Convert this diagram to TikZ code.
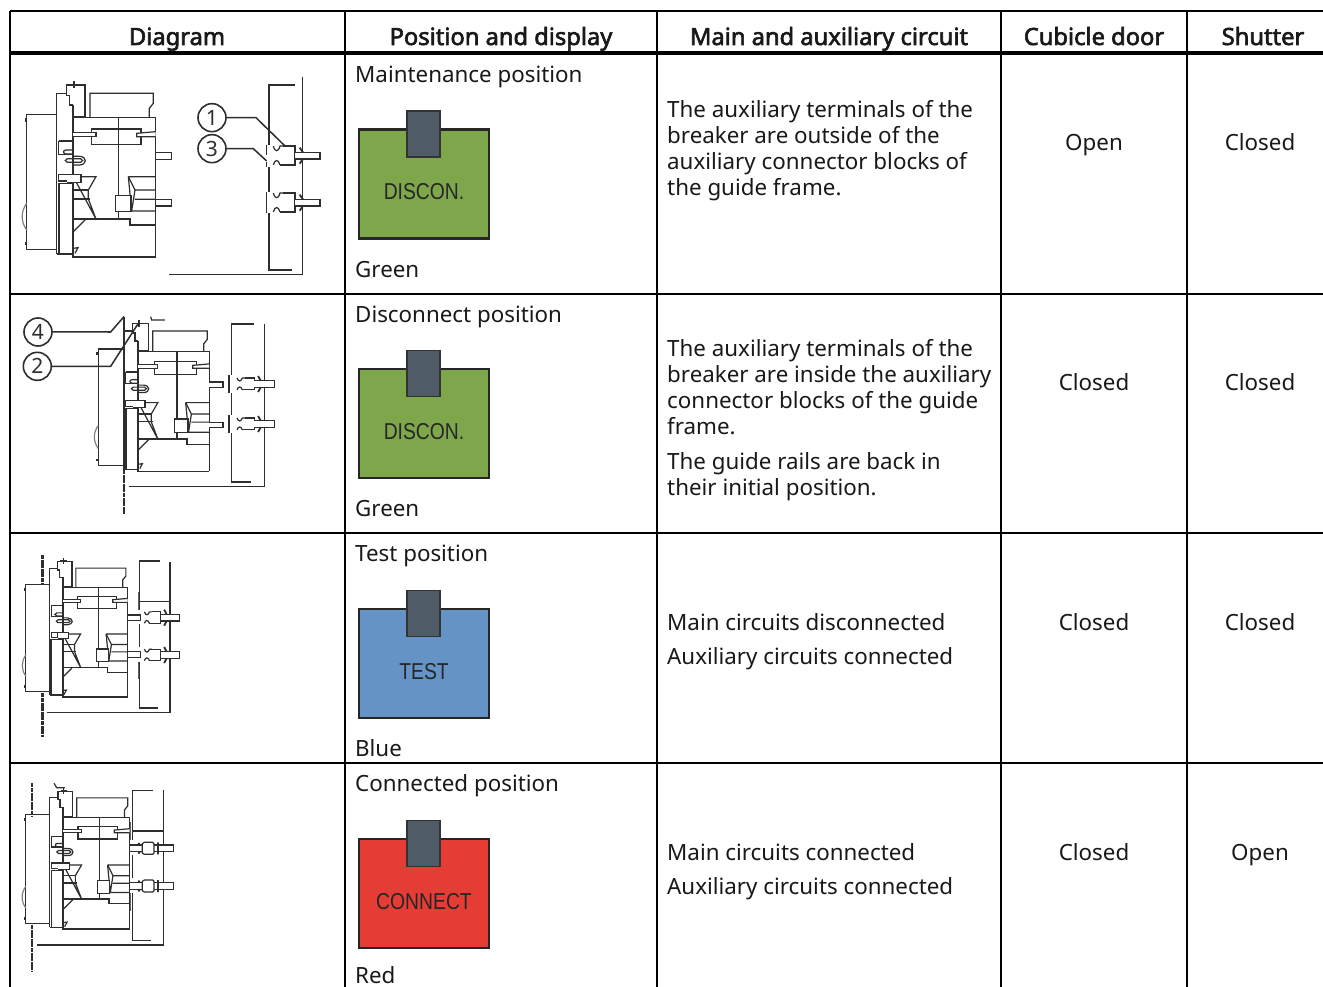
\documentclass[tikz,border=0pt]{standalone}
\usepackage{fontspec}
\setmainfont{Noto Sans}
\newfontfamily\hdrfont[FakeBold=2.5]{Noto Sans}
\newfontfamily\dispfont[FakeStretch=0.84]{Liberation Sans}
\definecolor{ink}{HTML}{2E2E2E}
\definecolor{dgreen}{HTML}{7DA74A}
\definecolor{dblue}{HTML}{6593C5}
\definecolor{dred}{HTML}{E53D35}
\definecolor{dtab}{HTML}{4F5B66}
\tikzset{
 grid/.style={line width=1.3pt,black},
 hdrrule/.style={line width=3.2pt,black},
 lnk/.style={line width=1.2pt,ink,line join=miter},
 thk/.style={line width=1.8pt,ink},
 bar/.style={line width=1.6pt,ink!75},
 lead/.style={line width=1.5pt,ink},
 wall/.style={line width=2.6pt,ink,dash pattern=on 4pt off .6pt},
 hdr/.style={font=\hdrfont\fontsize{23.7}{26}\selectfont,anchor=base,inner sep=0pt,text=black!90},
 body/.style={font=\fontsize{22.35}{26.2}\selectfont,inner sep=0pt,text=black!90},
 first/.style={body,anchor=base west},
 para/.style={body,anchor=north west,align=left},
 mid/.style={body,anchor=base},
 num/.style={circle,draw=ink,line width=1.6pt,minimum size=28pt,inner sep=0pt,font=\fontsize{21}{22}\selectfont,fill=white,text=ink},
 disp/.style={draw=black!85,line width=2.2pt},
 disptab/.style={draw=black!80,fill=dtab,line width=1.6pt},
 disptext/.style={font=\dispfont\fontsize{23}{24}\selectfont,inner sep=0pt,text=black!85,anchor=base}
}
% breaker body in the coordinates of the first row, 3x
\newcommand{\brkbody}{%
 \draw[lnk] (140,178)--(50,178)--(50,583)--(140,583);
 \draw[thk] (47,190)--(47,200) (47,560)--(47,570);
 \draw[lnk,gray] (50,445) .. controls (32,470) and (32,500) .. (50,525);
 \draw[lnk] (168,115)--(140,115)--(140,598);
 \draw[thk] (140,598)--(190,598);
 \draw[thk] (190,150)--(190,605)--(437,605);
 \draw[lnk] (437,605)--(437,188)--(190,188);
 \draw[lnk] (240,188)--(240,115)--(430,115)--(430,145)--(418,160)--(418,188);
 \draw[lnk] (170,122)--(170,90)--(225,90)--(225,185)--(190,185);
 \draw[lnk] (170,122)--(178,122)--(178,150)--(190,150);
 \draw[lnk] (192,78)--(192,100) (180,88)--(205,88);
 \draw[lnk] (325,188)--(325,492);
 \draw[lnk] (245,222)--(393,222)--(393,268)--(245,268)--cycle;
 \draw[lnk,fill=white] (190,233)--(258,233)--(258,245)--(190,245);
 \draw[lnk,fill=white] (437,230)--(380,235)--(380,245)--(437,245);
 \draw[lnk] (146,258)--(190,258) (146,258)--(146,298)--(190,298);
 \draw[lnk] (190,285)--(168,285) .. controls (158,285) and (158,297) .. (168,297)--(190,297);
 \draw[lnk] (172,311)--(212,311) .. controls (220,311) and (220,322) .. (212,322)--(172,322) .. controls (164,322) and (164,311) .. (172,311);
 \draw[lnk] (190,304)--(208,304) .. controls (232,304) and (232,330) .. (208,330)--(190,330);
 \draw[lnk] (190,365)--(258,365)--(235,405)--(235,432)--(258,492)--cycle;
 \draw[lnk] (190,405)--(235,405) (190,432)--(240,432);
 \draw[lnk,fill=white] (146,358)--(172,358)--(172,378)--(146,378)--cycle;
 \draw[lnk,fill=white] (172,358)--(213,358)--(213,382)--(172,382);
 \draw[thk] (146,385)--(146,598);
 \draw[lnk] (146,385)--(190,385);
 \draw[lnk] (190,492)--(360,492)--(360,510)--(437,510);
 \draw[lnk] (190,530)--(225,495);
 \draw[lnk] (190,580)--(204,578)--(195,595);
 \draw[lnk] (355,365)--(437,365) (355,365)--(375,405)--(437,405);
 \draw[lnk] (355,365)--(365,468)--(437,468) (375,405)--(365,468) (375,433)--(437,433);
 \draw[lnk,fill=white] (317,422) rectangle (363,470);
 \draw[lnk,fill=white] (437,293)--(485,293)--(485,313)--(437,313);
 \draw[lnk,fill=white] (437,433)--(485,433)--(485,453)--(437,453);
}
% open auxiliary contact: #1 #2 position, #3 x scale, #4 y scale of the body
\newcommand{\tulip}[4]{%
 \begin{scope}[shift={(#1,#2)},xscale=#3]
  \draw[lnk] (-35,{-29*#4})--(0,{-29*#4})--(0,{28*#4})--(-45,{28*#4});
  \draw[lnk] (-65,{-29*#4}) .. controls (-60,{-10*#4}) and (-50,{-10*#4}) .. (-45,{-29*#4})--(-35,{-29*#4});
  \draw[lnk] (-65,{28*#4}) .. controls (-60,{10*#4}) and (-50,{10*#4}) .. (-45,{28*#4});
  \draw[lnk,fill=white] (0,-10)--(75,-10)--(75,10)--(0,10);
  \draw[thk] (14,-24)--(24,-10) (14,24)--(24,10);
 \end{scope}}
% closed contact in the last row
\newcommand{\closedc}[1]{%
 \draw[lnk,fill=white] (360,{#1-10})--(490,{#1-10})--(490,{#1+10})--(360,{#1+10});
 \draw[thk] (385,{#1-16})--(390,{#1-10}) (385,{#1+16})--(390,{#1+10}) (444,{#1-18})--(444,{#1+18});
 \draw[lnk,fill=white] (397,{#1-14})--(403,{#1-18})--(428,{#1-18})--(432,{#1-14})--(432,{#1+14})--(428,{#1+18})--(403,{#1+18})--(397,{#1+14})--cycle;
}
\newcommand{\dispbox}[4]{%
 % #1 top of the coloured box, #2 colour, #3 text, #4 name
 \node[disp,fill=#2,minimum width=130pt,minimum height=109pt,anchor=north west,inner sep=0pt] (#4box) at (357.5,#1-.5) {};
 \node[disptab,minimum width=33pt,minimum height=46pt,anchor=north west,inner sep=0pt] (#4tab) at (406,#1-18.5) {};
 \node[disptext] (#4txt) at (424,#1+71) {#3};
}
\begin{document}
\begin{tikzpicture}[x=1pt,y=-1pt]
\useasboundingbox (0,0) rectangle (1323,987);
\fill[white] (0,0) rectangle (1323,987);
% table rules
\coordinate (tl) at (10,11); \coordinate (tr) at (1323,11);
\coordinate (hl) at (10,53); \coordinate (hr) at (1323,53);
\draw[grid] (tl)--(tr);
\draw[hdrrule] (hl)--(hr);
\draw[grid] (10,294)--(1323,294) (10,533)--(1323,533) (10,763)--(1323,763);
\draw[grid] (10,11)--(10,987) (345,11)--(345,987) (657,11)--(657,987) (1001,11)--(1001,987) (1187,11)--(1187,987);
% header
\node[hdr] (h1) at (177,45) {Diagram};
\node[hdr] (h2) at (501,45) {Position and display};
\node[hdr] (h3) at (829,45) {Main and auxiliary circuit};
\node[hdr] (h4) at (1094,45) {Cubicle door};
\node[hdr] (h5) at (1263,45) {Shutter};
% second column
\node[first] (p1) at (355,82.5) {Maintenance position};
\node[first] (c1) at (355,277) {Green};
\node[first] (p2) at (355,322) {Disconnect position};
\node[first] (c2) at (355,516) {Green};
\node[first] (p3) at (355,561) {Test position};
\node[first] (c3) at (355,756) {Blue};
\node[first] (p4) at (355,791) {Connected position};
\node[first] (c4) at (355,983) {Red};
\dispbox{129}{dgreen}{DISCON.}{a}
\dispbox{368}{dgreen}{DISCON.}{b}
\dispbox{608}{dblue}{TEST}{c}
\dispbox{838}{dred}{CONNECT}{d}
% third column
\node[para] (m1) at (667,100) {The auxiliary terminals of the\\breaker are outside of the\\auxiliary connector blocks of\\the guide frame.};
\node[para] (m2) at (667,339) {The auxiliary terminals of the\\breaker are inside the auxiliary\\connector blocks of the guide\\frame.};
\node[para] (m2b) at (667,452) {The guide rails are back in\\their initial position.};
\node[first] (m3) at (667,630) {Main circuits disconnected};
\node[first] (m3b) at (667,664) {Auxiliary circuits connected};
\node[first] (m4) at (667,860) {Main circuits connected};
\node[first] (m4b) at (667,894) {Auxiliary circuits connected};
% last two columns
\node[mid] (d1) at (1094,151) {Open};
\node[mid] (s1) at (1260,151) {Closed};
\node[mid] (d2) at (1094,390) {Closed};
\node[mid] (s2) at (1260,390) {Closed};
\node[mid] (d3) at (1094,630) {Closed};
\node[mid] (s3) at (1260,630) {Closed};
\node[mid] (d4) at (1094,860) {Closed};
\node[mid] (s4) at (1260,860) {Open};
% row 1 diagram
\begin{scope}[shift={(10,55)},scale=1/3]
 \brkbody
 \draw[lnk] (855,90)--(777,90)--(777,270) (777,335)--(777,410) (777,475)--(777,645)--(845,645);
 \draw[lnk] (878,65)--(878,659)--(476,659);
 \draw[lnk] (770,270)--(770,300) (770,320)--(770,335) (770,410)--(770,475);
 \tulip{855}{302}{1}{1}
 \tulip{855}{443}{1}{1}
 \node[num] (n1) at (606,188) {1};
 \node[num] (n3) at (606,281) {3};
 \coordinate (e1) at (825,273); \coordinate (e3) at (770,318);
 \draw[lead] (n1)--(738,188)--(e1);
 \draw[lead] (n3)--(730,281)--(e3);
\end{scope}
% row 2 diagram
\begin{scope}[shift={(10,295)},scale=1/3]
 \draw[wall] (342,525)--(342,657);
 \draw[thk] (342,65)--(342,525);
 \begin{scope}[shift={(73.9*3,9)},scale=.86]
  \brkbody
 \end{scope}
 \draw[lnk] (733,87)--(664,87)--(664,240) (664,295)--(664,360) (664,415)--(664,561)--(723,561);
 \draw[lnk] (764,87)--(764,575)--(358,575);
 \draw[lnk] (657,240)--(657,295) (657,360)--(657,415);
 \tulip{733}{267}{.8}{.62}
 \tulip{733}{387}{.8}{.62}
 \draw[lnk] (422,65)--(425,75)--(465,75);
 \node[num] (n4) at (84,111) {4};
 \node[num] (n2) at (82,214) {2};
 \coordinate (e4) at (342,65); \coordinate (e2) at (385,85);
 \draw[lead] (n4)--(302,111)--(e4);
 \draw[lead] (n2)--(302,214)--(e2);
\end{scope}
% row 3 diagram
\begin{scope}[shift={(10,535)},scale=1/3]
 \draw[wall] (97,60)--(97,150) (97,475)--(97,607);
 \begin{scope}[shift={(8,8.5)},scale=.79]
  \brkbody
 \end{scope}
 \draw[lnk] (450,78)--(388,78)--(388,225) (388,268)--(388,335) (388,380)--(388,519)--(443,519);
 \draw[lnk] (480,80)--(480,532)--(110,532);
 \draw[lnk] (388,200)--(480,200);
 \draw[bar] (385,172)--(385,225) (385,380)--(385,432);
 \tulip{452}{248}{.75}{.6}
 \tulip{452}{360}{.75}{.6}
\end{scope}
% row 4 diagram
\begin{scope}[shift={(10,765)},scale=1/3]
 \draw[wall] (66,55)--(66,155) (66,480)--(66,620);
 \begin{scope}[shift={(7,6)},scale=.805]
  \brkbody
 \end{scope}
 \draw[lnk] (430,76)--(367,76)--(367,225) (367,270)--(367,340) (367,385)--(367,526)--(423,526);
 \draw[lnk] (460,76)--(460,540)--(82,540);
 \draw[lnk] (367,198)--(460,198);
 \draw[bar] (362,172)--(362,225) (362,385)--(362,438);
 \closedc{250}
 \closedc{363}
 \draw[lnk] (132,55)--(140,68)--(165,68);
\end{scope}
\end{tikzpicture}
\end{document}
